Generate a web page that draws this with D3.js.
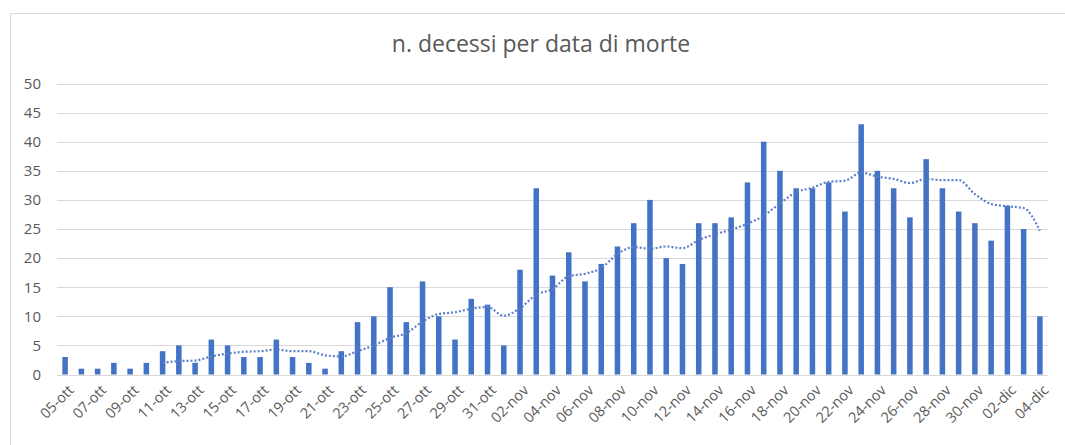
<!DOCTYPE html>
<html>
<head>
<meta charset="utf-8">
<script src="https://cdn.jsdelivr.net/npm/d3@7"></script>
<style>
  body { margin: 0; background: #fff; }
  text { font-family: "Open Sans", sans-serif; fill: #595959; }
</style>
</head>
<body>
<svg id="chart" width="1065" height="445"></svg>
<script>
// days shown on the x axis
const days = [
  '05-ott','06-ott','07-ott','08-ott','09-ott','10-ott','11-ott','12-ott','13-ott','14-ott',
  '15-ott','16-ott','17-ott','18-ott','19-ott','20-ott','21-ott','22-ott','23-ott','24-ott',
  '25-ott','26-ott','27-ott','28-ott','29-ott','30-ott','31-ott',
  '01-nov','02-nov','03-nov','04-nov','05-nov','06-nov','07-nov','08-nov','09-nov','10-nov',
  '11-nov','12-nov','13-nov','14-nov','15-nov','16-nov','17-nov','18-nov','19-nov','20-nov',
  '21-nov','22-nov','23-nov','24-nov','25-nov','26-nov','27-nov','28-nov','29-nov','30-nov',
  '01-dic','02-dic','03-dic','04-dic'
]

// deaths per day
const deaths = [
  3, 1, 1, 2, 1, 2, 4, 5, 2, 6,
  5, 3, 3, 6, 3, 2, 1, 4, 9, 10,
  15, 9, 16, 10, 6, 13, 12,
  5, 18, 32, 17, 21, 16, 19, 22, 26, 30,
  20, 19, 26, 26, 27, 33, 40, 35, 32, 32,
  33, 28, 43, 35, 32, 27, 37, 32, 28, 26,
  23, 29, 25, 10
]

// dotted trend line (starts on 11-ott)
const trend = [
  null, null, null, null, null, null, 2.0, 2.3, 2.4, 3.1,
  3.6, 3.9, 4.0, 4.3, 4.0, 4.0, 3.3, 3.1, 4.0, 5.0,
  6.3, 7.1, 9.1, 10.4, 10.7, 11.3, 11.6,
  10.1, 11.4, 13.7, 14.7, 16.9, 17.3, 18.3, 20.7, 21.9, 21.6,
  22.0, 21.7, 23.1, 24.1, 24.9, 25.9, 27.3, 29.4, 31.3, 32.1,
  33.1, 33.3, 34.7, 34.0, 33.6, 32.9, 33.6, 33.4, 33.4, 31.0,
  29.3, 28.9, 28.6, 24.7
]

const yTicks = [0, 5, 10, 15, 20, 25, 30, 35, 40, 45, 50]
const title = 'n. decessi per data di morte'

const svg = d3.select('#chart')
const barColor = '#4472C4'

// chart frame
svg.append('rect')
  .attr('x', 10.5).attr('y', 13.5)
  .attr('width', 1070).attr('height', 450)
  .attr('fill', '#fff')
  .attr('stroke', '#d9d9d9')

const x = d3.scaleBand()
  .domain(days)
  .range([57, 1048])
  .paddingInner(0.66)
  .paddingOuter(0.33)

const y = d3.scaleLinear()
  .domain([0, 50])
  .range([374.5, 83.5])

// gridlines
svg.append('g')
  .selectAll('line')
  .data(yTicks)
  .join('line')
    .attr('x1', 57).attr('x2', 1048)
    .attr('y1', d => Math.round(y(d)) + 0.5)
    .attr('y2', d => Math.round(y(d)) + 0.5)
    .attr('stroke', '#d9d9d9')
    .attr('stroke-width', 1)

// y labels
const yAxis = svg.append('g')
  .attr('transform', 'translate(57,0)')
  .call(d3.axisLeft(y).tickValues(yTicks).tickSize(0).tickPadding(16))
yAxis.select('.domain').remove()
yAxis.selectAll('text')
  .style('font-size', '15px')
  .attr('fill', '#595959')

// bars
svg.append('g')
  .selectAll('rect')
  .data(deaths)
  .join('rect')
    .attr('x', (d, i) => x(days[i]))
    .attr('width', x.bandwidth())
    .attr('y', d => y(d))
    .attr('height', d => y(0) - y(d))
    .attr('fill', barColor)

// trend line
const line = d3.line()
  .defined(d => d != null)
  .x((d, i) => x(days[i]) + x.bandwidth() / 2)
  .y(d => y(d))
  .curve(d3.curveMonotoneX)

svg.append('path')
  .datum(trend)
  .attr('d', line)
  .attr('fill', 'none')
  .attr('stroke', '#5b80c8')
  .attr('stroke-width', 2.2)
  .attr('stroke-dasharray', '2,2')

// x labels, every other day
const xAxis = svg.append('g')
  .attr('transform', 'translate(0,374.5)')
  .call(d3.axisBottom(x).tickValues(days.filter((d, i) => i % 2 === 0)).tickSize(0).tickPadding(0))
xAxis.select('.domain').remove()
xAxis.selectAll('text')
  .style('font-size', '14.5px')
  .attr('fill', '#6a6a6a')
  .attr('text-anchor', 'end')
  .attr('dy', '0.35em')
  .attr('transform', 'translate(6,13) rotate(-45)')

// title
svg.append('text')
  .attr('x', 541)
  .attr('y', 52)
  .attr('text-anchor', 'middle')
  .style('font-size', '23px')
  .text(title)
</script>
</body>
</html>
